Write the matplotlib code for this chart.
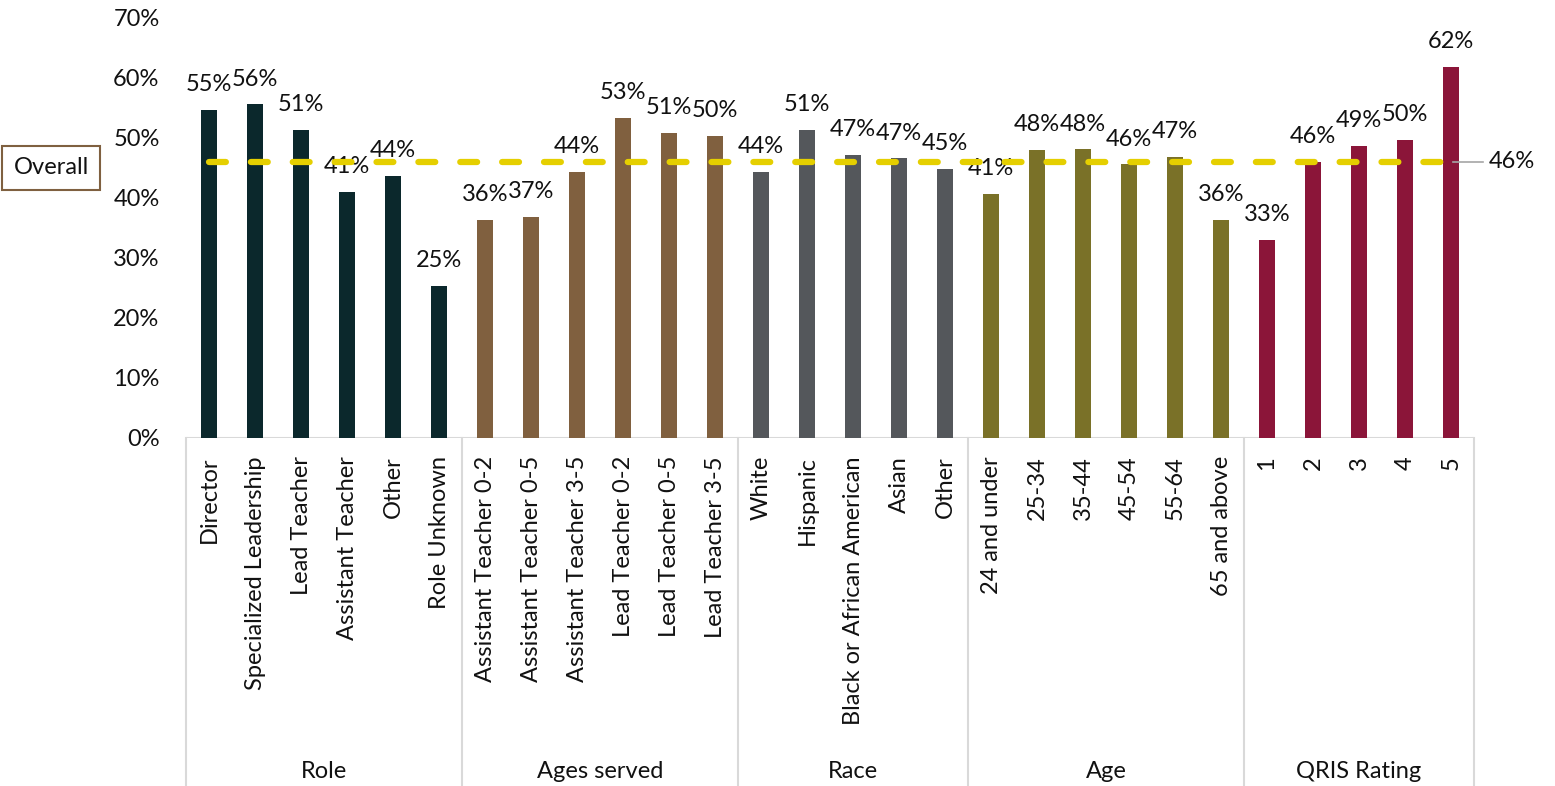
import matplotlib
matplotlib.use("Agg")
import matplotlib.pyplot as plt
from matplotlib.transforms import blended_transform_factory

plt.rcParams['font.family'] = ['Lato', 'DejaVu Sans']

# ---- data ----
groups = ["Role", "Ages served", "Race", "Age", "QRIS Rating"]
role_labels = ["Director", "Specialized Leadership", "Lead Teacher", "Assistant Teacher", "Other", "Role Unknown"]
role_values = [54.7, 55.6, 51.4, 41.0, 43.7, 25.3]
ages_served_labels = ["Assistant Teacher 0-2", "Assistant Teacher 0-5", "Assistant Teacher 3-5",
                      "Lead Teacher 0-2", "Lead Teacher 0-5", "Lead Teacher 3-5"]
ages_served_values = [36.3, 36.8, 44.3, 53.4, 50.8, 50.3]
race_labels = ["White", "Hispanic", "Black or African American", "Asian", "Other"]
race_values = [44.4, 51.4, 47.2, 46.6, 44.8]
age_labels = ["24 and under", "25-34", "35-44", "45-54", "55-64", "65 and above"]
age_values = [40.7, 48.0, 48.1, 45.6, 46.8, 36.3]
qris_labels = ["1", "2", "3", "4", "5"]
qris_values = [33.0, 46.0, 48.7, 49.7, 61.9]
overall_value = 46.0

group_colors = ["#0B282C", "#80603F", "#54575B", "#7A7128", "#8B1539"]
group_labels = [role_labels, ages_served_labels, race_labels, age_labels, qris_labels]
group_values = [role_values, ages_served_values, race_values, age_values, qris_values]

FS = 17
W, H = 1555, 786
fig = plt.figure(figsize=(W / 100, H / 100), dpi=100)
ax = fig.add_axes([186 / W, (H - 438) / H, (1474 - 186) / W, 420 / H])

cats, vals, cols, bounds = [], [], [], [0]
for labs, vs, c in zip(group_labels, group_values, group_colors):
    cats += labs
    vals += vs
    cols += [c] * len(labs)
    bounds.append(bounds[-1] + len(labs))

n = len(cats)
xs = [i + 0.5 for i in range(n)]
ax.bar(xs, vals, width=0.33, color=cols, zorder=2)

for x, v in zip(xs, vals):
    ax.annotate(f"{v:.0f}%", xy=(x, v), xytext=(0, 13.5), textcoords="offset points",
                ha="center", va="baseline", fontsize=FS, color="#111111")

# overall dashed line
ax.plot([xs[0], xs[-1]], [overall_value, overall_value], color="#E5CF00", lw=4.5,
        dashes=(2.7, 4.0), dash_capstyle="round", zorder=3)
ax.plot([xs[-1] + 0.05, xs[-1] + 0.7], [overall_value, overall_value], color="#A6A6A6", lw=1.2,
        clip_on=False)
ax.text(xs[-1] + 0.82, overall_value, f"{overall_value:.0f}%", ha="left", va="center",
        fontsize=FS, color="#111111", clip_on=False)

ax.set_xlim(0, n)
ax.set_ylim(0, 70)
ax.set_yticks(range(0, 71, 10))
ax.set_yticklabels([f"{t}%" for t in range(0, 71, 10)], fontsize=FS, color="#111111")
ax.tick_params(axis="y", length=0, pad=19)
ax.set_xticks(xs)
ax.set_xticklabels(cats, rotation=90, fontsize=FS, color="#111111", va="top")
ax.tick_params(axis="x", length=0, pad=13)
for s in ax.spines.values():
    s.set_visible(False)
ax.axhline(0, color="#D9D9D9", lw=1.5, zorder=1)

tr = blended_transform_factory(ax.transData, ax.transAxes)
bottom = -(H - 438) / 420
for b in bounds:
    ax.plot([b, b], [0, bottom], color="#D9D9D9", lw=1.5, transform=tr, clip_on=False)
for g, a, b in zip(groups, bounds[:-1], bounds[1:]):
    ax.text((a + b) / 2, -(771 - 438) / 420, g, transform=tr, ha="center", va="center",
            fontsize=FS, color="#111111")

fig.text(51 / W, 1 - 168 / H, "Overall", ha="center", va="center", fontsize=FS, color="#111111",
         bbox=dict(boxstyle="square,pad=0.5", fc="white", ec="#7F6040", lw=1.5))

fig.savefig("out.png", dpi=100)
